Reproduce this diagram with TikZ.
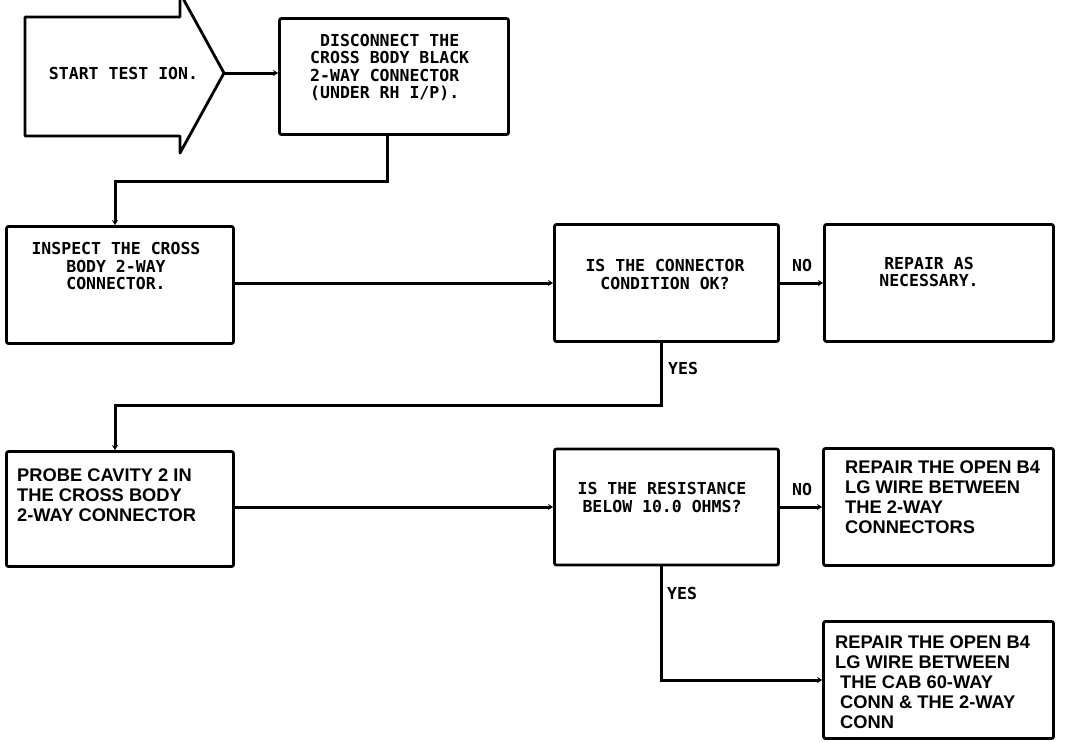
\documentclass[tikz,border=0pt]{standalone}
\usepackage{fontspec}
\setsansfont{Liberation Sans}
\setmonofont{DejaVu Sans Mono}
\usetikzlibrary{arrows.meta}
\begin{document}
\begin{tikzpicture}[x=1pt,y=-1pt,
  box/.style={draw, line width=2.8pt, rounded corners=2pt, inner sep=0pt},
  conn/.style={line width=3pt, -{Stealth[length=5pt,width=6pt]}},
  plot/.style={inner sep=0pt, font=\ttfamily\bfseries\fontsize{16.5}{17.5}\selectfont},
  helv/.style={inner sep=0pt, align=left, anchor=west, font=\sffamily\bfseries\fontsize{18.3}{20}\selectfont}]
\useasboundingbox (0,0) rectangle (1072,742);
\fill[white] (0,0) rectangle (1072,742);

% start arrow
\draw[line width=2.8pt, line join=round] (25,17) -- (180,17) -- (180,-7) -- (224,73) -- (180,153) -- (180,136) -- (25,136) -- cycle;
\coordinate (tip) at (224,73);
\node[plot] (start) at (123.5,73) {START TEST ION.};

% boxes
\node[box, minimum width=229pt, minimum height=116pt] (disc) at (394,76.5) {};
\node[box, minimum width=227pt, minimum height=117pt] (inspect) at (120,285) {};
\node[box, minimum width=224pt, minimum height=117pt] (q1) at (666.5,283) {};
\node[box, minimum width=229pt, minimum height=117pt] (rep1) at (939,283) {};
\node[box, minimum width=227pt, minimum height=115pt] (probe) at (120,509) {};
\node[box, minimum width=224pt, minimum height=116pt] (q2) at (666.5,507) {};
\node[box, minimum width=230pt, minimum height=117pt] (rep2) at (938.5,507) {};
\node[box, minimum width=230pt, minimum height=117pt] (rep3) at (938.5,680) {};

% texts
\node[plot, align=left, anchor=west] (disc-t) at (310,67.5) {~DISCONNECT THE\\CROSS BODY BLACK\\2-WAY CONNECTOR\\(UNDER RH I/P).};
\node[plot, align=center] (inspect-t) at (116,266) {INSPECT THE CROSS\\BODY 2-WAY\\CONNECTOR.};
\node[plot, align=center] (q1-t) at (665,274.5) {IS THE CONNECTOR\\CONDITION OK?};
\node[plot, align=center] (rep1-t) at (929,272) {REPAIR AS\\NECESSARY.};
\node[plot, align=center] (q2-t) at (662,497.5) {IS THE RESISTANCE\\BELOW 10.0 OHMS?};
\node[helv] (probe-t) at (17,495) {PROBE CAVITY 2 IN\\THE CROSS BODY\\2-WAY CONNECTOR};
\node[helv] (rep2-t) at (845,497.5) {REPAIR THE OPEN B4\\LG WIRE BETWEEN\\THE 2-WAY\\CONNECTORS};
\node[helv] (rep3-t) at (835,682) {REPAIR THE OPEN B4\\LG WIRE BETWEEN\\\hspace*{5pt}THE CAB 60-WAY\\\hspace*{5pt}CONN \& THE 2-WAY\\\hspace*{5pt}CONN};

% labels
\node[plot, anchor=west] (no1) at (792,265) {NO};
\node[plot, anchor=west] (no2) at (792,489) {NO};
\node[plot, anchor=west] (yes1) at (668,368) {YES};
\node[plot, anchor=west] (yes2) at (667,593) {YES};

% connectors
\draw[conn] (tip) -- (tip -| disc.west);
\coordinate (d1) at (387,181);
\coordinate (j1) at (115,181);
\draw[conn] (d1 |- disc.south) -- (d1) -- (j1) -- (j1 |- inspect.north);
\draw[conn] (q1.west -| inspect.east) -- (q1.west);
\draw[conn] (q1.east) -- (q1.east -| rep1.west);
\coordinate (y1) at (661,405);
\coordinate (j2) at (115,405);
\draw[conn] (y1 |- q1.south) -- (y1) -- (j2) -- (j2 |- probe.north);
\draw[conn] (q2.west -| probe.east) -- (q2.west);
\draw[conn] (q2.east) -- (q2.east -| rep2.west);
\coordinate (y2) at (661,680);
\draw[conn] (y2 |- q2.south) -- (y2) -- (y2 -| rep3.west);
\end{tikzpicture}
\end{document}
